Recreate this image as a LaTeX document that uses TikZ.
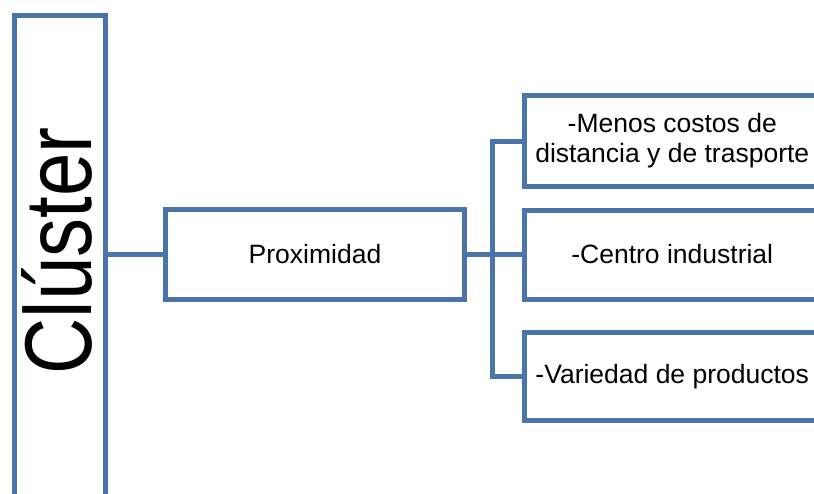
\documentclass[tikz,border=0pt]{standalone}
\usepackage{fontspec}
\setmainfont{Liberation Sans}
\definecolor{boxblue}{RGB}{74,116,170}
\begin{document}
\begin{tikzpicture}[x=1pt,y=-1pt,
  bx/.style={draw=boxblue,line width=5pt,rectangle,inner sep=0pt,align=center,
    font=\fontsize{26.5}{30}\selectfont},
  conn/.style={draw=boxblue,line width=5pt,line join=miter}]
\useasboundingbox (0,0) rectangle (814,493);
\clip (0,0) rectangle (814,493);
% left tall box
\node[bx,minimum width=91pt,minimum height=540pt] (cl) at (60,285.5) {};
\node[font=\fontsize{95}{95}\selectfont,rotate=90,anchor=base,inner sep=0pt] (cltext) at (91,251) {\scalebox{0.82}[1]{Clúster}};
% middle box
\node[bx,minimum width=299pt,minimum height=90pt] (prox) at (315,254.5) {Proximidad};
% right boxes
\node[bx,minimum width=295.5pt,minimum height=91pt] (b1) at (672.25,141) {-Menos costos de\\distancia y de trasporte};
\node[bx,minimum width=295.5pt,minimum height=89pt] (b2) at (672.25,254.5) {-Centro industrial};
\node[bx,minimum width=295.5pt,minimum height=88pt] (b3) at (672.25,376.5) {-Variedad de productos};
% connectors
\draw[conn] (cl.east |- prox.west) -- (prox.west);
\draw[conn] (prox.east) -- (b2.west);
\draw[conn] (b1.west) -- ++(-30,0) |- (b3.west);
\end{tikzpicture}
\end{document}
